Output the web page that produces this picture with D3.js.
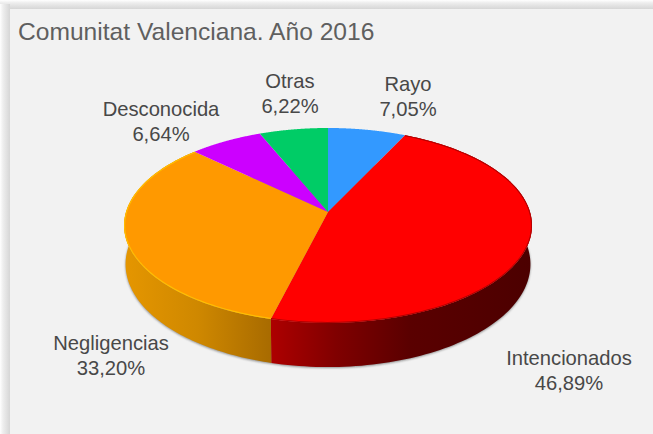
<!DOCTYPE html>
<html><head><meta charset="utf-8">
<script src="https://cdn.jsdelivr.net/npm/d3@7"></script>
<style>html,body{margin:0;padding:0;background:#fff;overflow:hidden}svg{display:block}</style>
</head><body><svg id="c" width="653" height="434"></svg>
<script>
const titleText = "Comunitat Valenciana. Año 2016";
const categories = ["Rayo","Intencionados","Negligencias","Desconocida","Otras"];
const values = [7.05,46.89,33.20,6.64,6.22];
const valueLabels = ["7,05%","46,89%","33,20%","6,64%","6,22%"];
const colors = ["#3399ff","#ff0000","#ff9900","#cc00ff","#00cc66"];
const labelCentres = [[408,85],[569,359],[111,344],[161,110],[290,82]];

const svg = d3.select("#c");
const W=653,H=434;
const defs = svg.append("defs");
const blur = (id,s)=>defs.append("filter").attr("id",id).attr("x","-10%").attr("y","-10%").attr("width","120%").attr("height","120%")
  .append("feGaussianBlur").attr("stdDeviation",s);
blur("b1",1); blur("b2",0.7);

// frame
const edge=defs.append("linearGradient").attr("id","frameL");
[[0,"#ffffff"],[0.3,"#eeeeee"],[1,"#d6d6d6"]].forEach(s=>edge.append("stop").attr("offset",s[0]).attr("stop-color",s[1]));
const edgeT=defs.append("linearGradient").attr("id","frameT").attr("x2",0).attr("y2",1);
[[0,"#ffffff"],[0.3,"#eeeeee"],[1,"#d6d6d6"]].forEach(s=>edgeT.append("stop").attr("offset",s[0]).attr("stop-color",s[1]));
svg.append("rect").attr("width",W).attr("height",H).attr("fill","#ffffff");
svg.append("rect").attr("x",0).attr("y",0).attr("width",W).attr("height",9).attr("fill","url(#frameT)");
svg.append("rect").attr("x",0).attr("y",4).attr("width",10).attr("height",H).attr("fill","url(#frameL)");
svg.append("rect").attr("x",10).attr("y",9).attr("width",W).attr("height",H).attr("fill","#f2f2f2");

// projection of the tilted disc
const cx=328, cy=212, k=95.6, p=0.138;
const sxTop=d3.scaleLinear().domain([-1,1]).range([cx-202,cx+202]);
const sxBot=d3.scaleLinear().domain([-1,1]).range([cx-200.5,cx+200.5]);
const syTop=d3.scaleLinear().domain([-1,1]).range([cy-k,cy+k]);
const syBot=d3.scaleLinear().domain([-1,1]).range([cy+38-100.9,cy+38+100.9]);
const proj=(a,sx,sy)=>{const u=Math.sin(a),v=-Math.cos(a),w=1-p*v;return [sx(u/w),sy(v/w)];};
const arcPts=(a0,a1,sx,sy)=>d3.range(0,121).map(i=>proj(a0+(a1-a0)*i/120,sx,sy));
const line=d3.line();

const arcs=d3.pie().sort(null).value(d=>d)(values);

// gradients
function grad(id,stops){
  const g=defs.append("linearGradient").attr("id",id).attr("gradientUnits","userSpaceOnUse")
    .attr("x1",124).attr("x2",532).attr("y1",0).attr("y2",0);
  stops.forEach(s=>g.append("stop").attr("offset",s[0]).attr("stop-color",s[1]));
}
grad("gO",[[0,"#e59600"],[0.18,"#cf8800"],[0.36,"#a86b00"]]);
grad("gR",[[0.36,"#ad0000"],[0.52,"#800000"],[0.7,"#5a0000"],[1,"#4c0000"]]);

// wall shadow
const wallFull=arcPts(arcs[0].startAngle,arcs[2].endAngle,sxBot,syBot);
svg.append("path").attr("d",line(wallFull)+"Z").attr("fill","#666").attr("opacity",0.7).attr("filter","url(#b1)")
  .attr("transform","translate(0,1)");

// walls
[[1,"gR"],[2,"gO"]].forEach(([i,g])=>{
  const a=arcs[i];
  const pts=arcPts(a.startAngle,a.endAngle,sxTop,syTop).concat(arcPts(a.startAngle,a.endAngle,sxBot,syBot).reverse());
  svg.append("path").attr("d",line(pts)+"Z").attr("fill",`url(#${g})`);
});

// top face
svg.append("g").selectAll("path").data(arcs).join("path")
  .attr("d",d=>line([[cx,cy]].concat(arcPts(d.startAngle,d.endAngle,sxTop,syTop)))+"Z")
  .attr("fill",(d,i)=>colors[i]);

// bevel rim
defs.append("clipPath").attr("id","faceClip").append("path").attr("d",line(arcPts(0,2*Math.PI,sxTop,syTop))+"Z");
const rim=svg.append("g").attr("clip-path","url(#faceClip)");
rim.append("path").attr("d",line(arcPts(arcs[1].startAngle,arcs[1].endAngle,sxTop,syTop)))
  .attr("fill","none").attr("stroke","#b00000").attr("stroke-width",2).attr("filter","url(#b2)");
rim.append("path").attr("d",line(arcPts(arcs[2].startAngle,arcs[2].endAngle,sxTop,syTop)))
  .attr("fill","none").attr("stroke","#ffc000").attr("stroke-width",2.2).attr("filter","url(#b2)");

// title
svg.append("text").attr("x",18).attr("y",40).attr("font-family","'Liberation Sans',sans-serif")
  .attr("font-size",24.6).attr("fill","#5f5f5f").text(titleText);

// labels
const labels=svg.append("g").attr("font-family","'Liberation Sans',sans-serif").attr("font-size",20.2)
  .attr("fill","#484848").attr("text-anchor","middle");
categories.forEach((c,i)=>{
  const [x,y]=labelCentres[i];
  labels.append("text").attr("x",x).attr("y",y+6).text(c);
  labels.append("text").attr("x",x).attr("y",y+31).text(valueLabels[i]);
});
</script></body></html>
